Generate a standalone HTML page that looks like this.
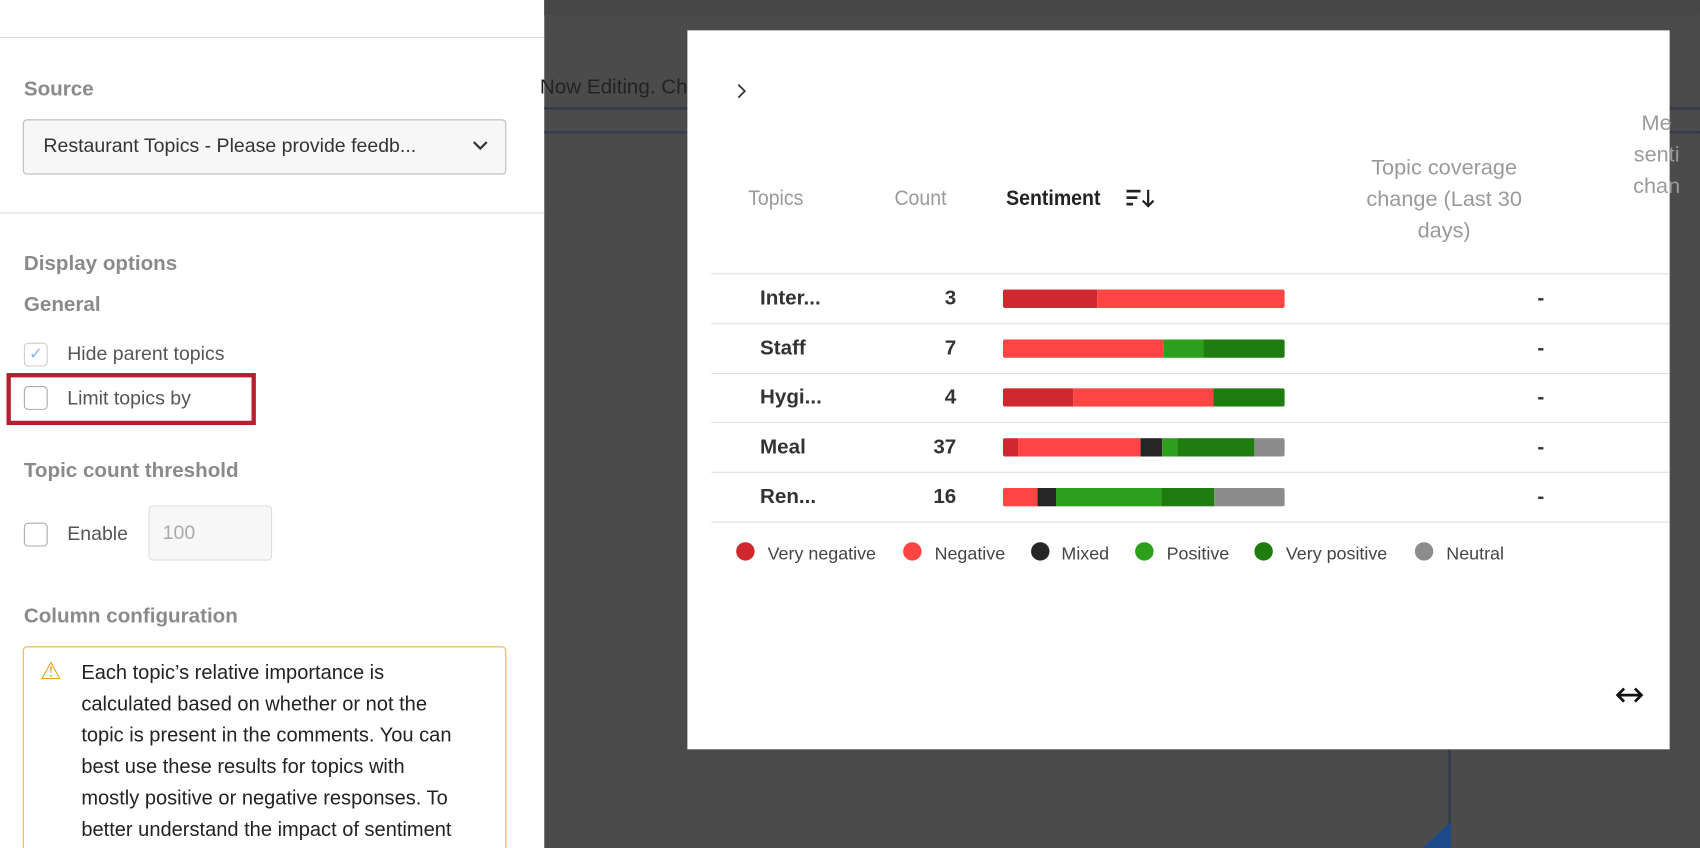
<!DOCTYPE html>
<html><head><meta charset="utf-8"><style>
*{margin:0;padding:0;box-sizing:border-box}
html,body{width:1700px;height:848px;overflow:hidden;background:#4b4b4b}
#w{position:absolute;left:0;top:0;width:1568px;height:782px;overflow:hidden;transform:scale(1.08418,1.0844);transform-origin:0 0;font-family:"Liberation Sans",sans-serif;background:#4b4b4b}
.a{position:absolute}
.lp{left:0;top:0;width:502px;height:782px;background:#fff}
.hl{height:1px;background:#ddd}
.g{color:#8a8a8a;font-weight:bold;font-size:19px}
.t{color:#555;font-size:18px}
.cb{width:22px;height:22px;border:1px solid #aaa;border-radius:4px;background:#fff}
.bar{height:17px;display:flex;border-radius:2px;overflow:hidden;left:925px;width:260px}
.bar div{height:100%}
.row{font-weight:bold;font-size:19px;color:#333}
.dot{width:17px;height:17px;border-radius:50%}
.lg{font-size:16.5px;color:#444}
.hd{font-size:20px;color:#9a9a9a;transform:scaleX(0.9);transform-origin:0 0}
</style></head><body><div id="w">
<div class="a lp"></div>
<div class="a hl" style="left:0;top:34px;width:502px"></div>
<div class="a g" style="left:22px;top:72px">Source</div>
<div class="a" style="left:21px;top:110px;width:446px;height:51px;border:1px solid #bbb;border-radius:4px;background:#f7f7f7"></div>
<div class="a" style="left:40px;top:124px;font-size:18px;color:#333">Restaurant Topics - Please provide feedb...</div>
<svg class="a" style="left:434px;top:128px" width="18" height="12"><path d="M3 3 L9 9 L15 3" fill="none" stroke="#333" stroke-width="2"/></svg>
<div class="a hl" style="left:0;top:196px;width:502px"></div>
<div class="a g" style="left:22px;top:233px">Display options</div>
<div class="a g" style="left:22px;top:271px">General</div>
<div class="a cb" style="left:22px;top:316px;border-color:#ccc;color:#8ab4e8;font-size:15px;text-align:center;line-height:20px">&#10003;</div>
<div class="a t" style="left:62px;top:316px">Hide parent topics</div>
<div class="a" style="left:6px;top:344px;width:230px;height:48px;border:4px solid #b5202e"></div>
<div class="a cb" style="left:22px;top:356px"></div>
<div class="a t" style="left:62px;top:357px">Limit topics by</div>
<div class="a g" style="left:22px;top:424px">Topic count threshold</div>
<div class="a cb" style="left:22px;top:482px"></div>
<div class="a t" style="left:62px;top:482px">Enable</div>
<div class="a" style="left:137px;top:466px;width:114px;height:51px;border:1px solid #ddd;border-radius:4px;background:#f7f7f7;color:#aaa;font-size:18px;padding:14px 12px">100</div>
<div class="a g" style="left:22px;top:558px">Column configuration</div>
<div class="a" style="left:21px;top:596px;width:446px;height:220px;border:1px solid #f0b050;border-radius:4px;background:#fff"></div>
<div class="a" style="left:37px;top:606px;font-size:22px;color:#e8a020">&#9888;</div>
<div class="a" style="left:75px;top:605px;white-space:nowrap;font-size:18.5px;line-height:29px;color:#222">Each topic’s relative importance is<br>calculated based on whether or not the<br>topic is present in the comments. You can<br>best use these results for topics with<br>mostly positive or negative responses. To<br>better understand the impact of sentiment</div>
<div class="a" style="left:502px;top:0;width:1066px;height:14px;background:#474747"></div>
<div class="a" style="left:502px;top:99px;width:1066px;height:2px;background:#2c3a4c"></div>
<div class="a" style="left:502px;top:121px;width:1066px;height:2px;background:#2f3d50"></div>
<div class="a" style="left:498px;top:70px;font-size:19px;color:#222">Now Editing. Ch</div>
<div class="a" style="left:1336px;top:690px;width:2px;height:110px;background:#2c3a4c"></div>
<div class="a" style="left:1312px;top:758px;width:0;height:0;border-left:26px solid transparent;border-bottom:24px solid #1d4a8a"></div>
<div class="a" style="left:634px;top:28px;width:906px;height:663px;background:#fff"></div>
<svg class="a" style="left:678px;top:76px" width="12" height="16"><path d="M3 2 L9 8 L3 14" fill="none" stroke="#333" stroke-width="1.6"/></svg>
<div class="a hd" style="left:690px;top:172px">Topics</div>
<div class="a hd" style="left:825px;top:172px">Count</div>
<div class="a hd" style="left:928px;top:172px;font-weight:bold;color:#222">Sentiment</div>
<svg class="a" style="left:1039px;top:174px" width="28" height="18"><rect x="0" y="1" width="13" height="2.5" fill="#222"/><rect x="0" y="7" width="10" height="2.5" fill="#222"/><rect x="0" y="13" width="6" height="2.5" fill="#222"/><path d="M20 1 V16 M15 11 L20 16 L25 11" fill="none" stroke="#222" stroke-width="2"/></svg>
<div class="a" style="left:1252px;top:141px;width:160px;text-align:center;font-size:20px;line-height:29px;color:#9a9a9a">Topic coverage change (Last 30 days)</div>
<div class="a" style="left:1478px;top:100px;width:100px;text-align:center;font-size:20px;line-height:29px;color:#9a9a9a">Me<br>senti<br>chan</div>
<div class="a hl" style="left:656px;top:252px;width:884px"></div>
<div class="a hl" style="left:656px;top:298px;width:884px"></div>
<div class="a hl" style="left:656px;top:344px;width:884px"></div>
<div class="a hl" style="left:656px;top:389px;width:884px"></div>
<div class="a hl" style="left:656px;top:435px;width:884px"></div>
<div class="a hl" style="left:656px;top:481px;width:884px"></div>
<div class="a row" style="left:701px;top:265px">Inter...</div><div class="a row" style="left:840px;top:265px;width:42px;text-align:right">3</div>
<div class="a row" style="left:701px;top:311px">Staff</div><div class="a row" style="left:840px;top:311px;width:42px;text-align:right">7</div>
<div class="a row" style="left:701px;top:356px">Hygi...</div><div class="a row" style="left:840px;top:356px;width:42px;text-align:right">4</div>
<div class="a row" style="left:701px;top:402px">Meal</div><div class="a row" style="left:840px;top:402px;width:42px;text-align:right">37</div>
<div class="a row" style="left:701px;top:448px">Ren...</div><div class="a row" style="left:840px;top:448px;width:42px;text-align:right">16</div>
<div class="a row" style="left:1418px;top:265px">-</div><div class="a row" style="left:1418px;top:311px">-</div><div class="a row" style="left:1418px;top:356px">-</div><div class="a row" style="left:1418px;top:402px">-</div><div class="a row" style="left:1418px;top:448px">-</div>
<div class="a bar" style="top:267px"><div style="width:87px;background:#d0282e"></div><div style="width:173px;background:#ff4444"></div></div>
<div class="a bar" style="top:313px"><div style="width:148px;background:#ff4444"></div><div style="width:37px;background:#2ca01c"></div><div style="width:75px;background:#1f7d10"></div></div>
<div class="a bar" style="top:358px"><div style="width:65px;background:#d0282e"></div><div style="width:129px;background:#ff4444"></div><div style="width:66px;background:#1f7d10"></div></div>
<div class="a bar" style="top:404px"><div style="width:14px;background:#d0282e"></div><div style="width:113px;background:#ff4444"></div><div style="width:20px;background:#262626"></div><div style="width:14px;background:#2ca01c"></div><div style="width:71px;background:#1f7d10"></div><div style="width:28px;background:#8c8c8c"></div></div>
<div class="a bar" style="top:450px"><div style="width:32px;background:#ff4444"></div><div style="width:17px;background:#262626"></div><div style="width:97px;background:#2ca01c"></div><div style="width:49px;background:#1f7d10"></div><div style="width:65px;background:#8c8c8c"></div></div>
<div class="a dot" style="left:679px;top:500px;background:#d0282e"></div><div class="a lg" style="left:708px;top:502px">Very negative</div>
<div class="a dot" style="left:833px;top:500px;background:#ff4444"></div><div class="a lg" style="left:862px;top:502px">Negative</div>
<div class="a dot" style="left:951px;top:500px;background:#262626"></div><div class="a lg" style="left:979px;top:502px">Mixed</div>
<div class="a dot" style="left:1047px;top:500px;background:#2ca01c"></div><div class="a lg" style="left:1076px;top:502px">Positive</div>
<div class="a dot" style="left:1157px;top:500px;background:#1f7d10"></div><div class="a lg" style="left:1186px;top:502px">Very positive</div>
<div class="a dot" style="left:1305px;top:500px;background:#8c8c8c"></div><div class="a lg" style="left:1334px;top:502px">Neutral</div>
<svg class="a" style="left:1490px;top:632px" width="26" height="18"><path d="M2 9 H24 M8 3 L2 9 L8 15 M18 3 L24 9 L18 15" fill="none" stroke="#111" stroke-width="2.5"/></svg>
</div></body></html>
